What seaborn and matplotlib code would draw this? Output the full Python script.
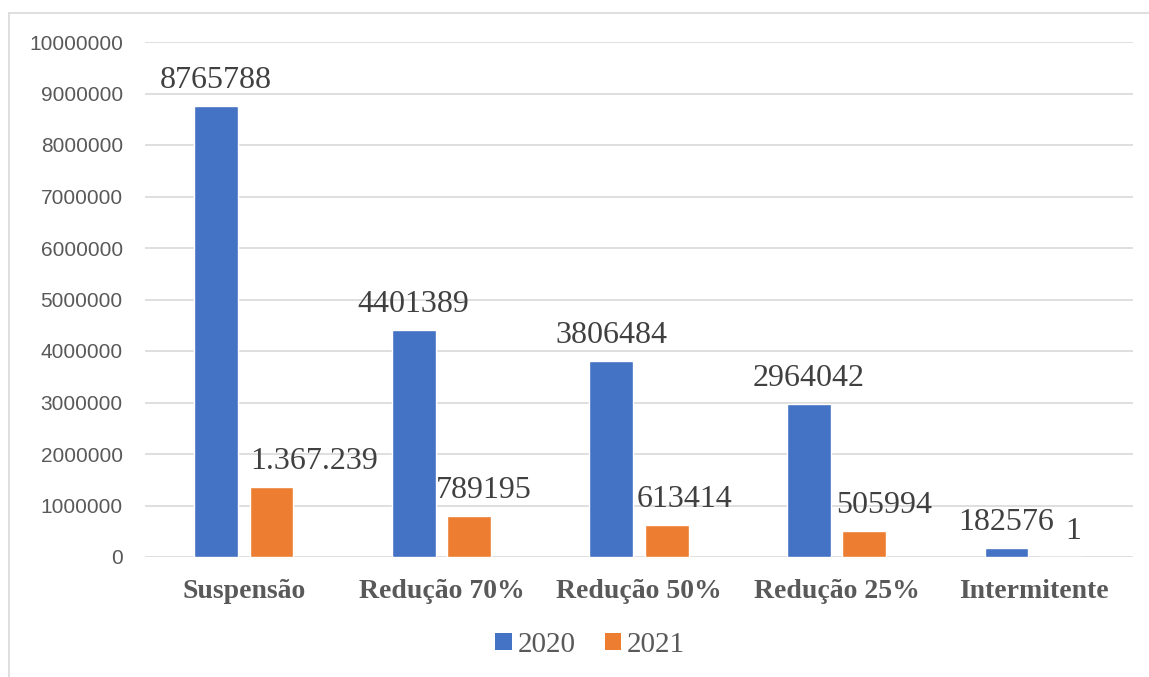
import matplotlib
matplotlib.use("Agg")
import matplotlib.pyplot as plt
from matplotlib.lines import Line2D
from matplotlib.patches import Patch
import seaborn as sns
import pandas as pd

categories = ["Suspensão", "Redução 70%", "Redução 50%", "Redução 25%", "Intermitente"]
years = ["2020", "2021"]
values_2020 = [8765788, 4401389, 3806484, 2964042, 182576]
values_2021 = [1367239, 789195, 613414, 505994, 1]
labels_2020 = ["8765788", "4401389", "3806484", "2964042", "182576"]
labels_2021 = ["1.367.239", "789195", "613414", "505994", "1"]
y_ticks = list(range(0, 10000001, 1000000))

colors = {"2020": "#4472C4", "2021": "#ED7D31"}

df = pd.DataFrame({
    "categoria": categories * 2,
    "ano": [years[0]] * len(categories) + [years[1]] * len(categories),
    "valor": values_2020 + values_2021,
})

sns.set_theme(style="white")
plt.rcParams["font.family"] = ["Liberation Serif", "DejaVu Serif"]

DPI = 100
fig = plt.figure(figsize=(11.49, 6.77), dpi=DPI)
ax = fig.add_axes([145 / 1149, 1 - 557 / 677, (1133 - 145) / 1149, (557 - 42) / 677])

sns.barplot(data=df, x="categoria", y="valor", hue="ano", order=categories,
            hue_order=years, palette=colors, width=0.562, gap=0.21,
            saturation=1, ax=ax, legend=False)

ax.set_ylim(0, 10000000)
ax.set_xlim(-0.5, len(categories) - 0.5)
ax.set_yticks(y_ticks)
ax.set_yticklabels([str(t) for t in y_ticks], family="Liberation Sans",
                   fontsize=15, color="#595959")
ax.set_xticks(range(len(categories)))
ax.set_xticklabels(categories, fontsize=20, fontweight="bold", color="#595959")
ax.tick_params(axis="y", length=0, pad=16)
ax.tick_params(axis="x", length=0, pad=16)
ax.set_xlabel("")
ax.set_ylabel("")
ax.grid(axis="y", color="#d9d9d9", linewidth=1.2)
ax.set_axisbelow(True)
for s in ax.spines.values():
    s.set_visible(False)

# value labels above each bar (horizontal nudges in pixels)
nudge_2020 = [0, 0, 0, 0, 0]
nudge_2021 = [43, 15, 18, 20, 11]
px = 72 / DPI
containers = ax.containers
for cont, labels, nudges in [(containers[0], labels_2020, nudge_2020),
                             (containers[1], labels_2021, nudge_2021)]:
    for bar, lab, dx in zip(cont.patches, labels, nudges):
        xc = bar.get_x() + bar.get_width() / 2
        ax.annotate(lab, (xc, bar.get_height()), xytext=(dx * px, 18 * px),
                    textcoords="offset points", ha="center", va="baseline",
                    fontsize=23, color="#404040")

handles = [Patch(facecolor=colors[y], edgecolor="none") for y in years]
fig.legend(handles, years, loc="center", bbox_to_anchor=(590 / 1149, 1 - 645 / 677),
           ncol=2, frameon=False, fontsize=21, handlelength=0.55, handleheight=0.55,
           handletextpad=0.2, columnspacing=1.0, labelcolor="#595959")

# chart-area border
fig.add_artist(Line2D([9 / 1149, 9 / 1149], [0, 1 - 13 / 677], transform=fig.transFigure,
                      color="#d9d9d9", linewidth=1.2))
fig.add_artist(Line2D([9 / 1149, 1], [1 - 13 / 677, 1 - 13 / 677], transform=fig.transFigure,
                      color="#d9d9d9", linewidth=1.2))

fig.savefig("out.png", dpi=DPI)
